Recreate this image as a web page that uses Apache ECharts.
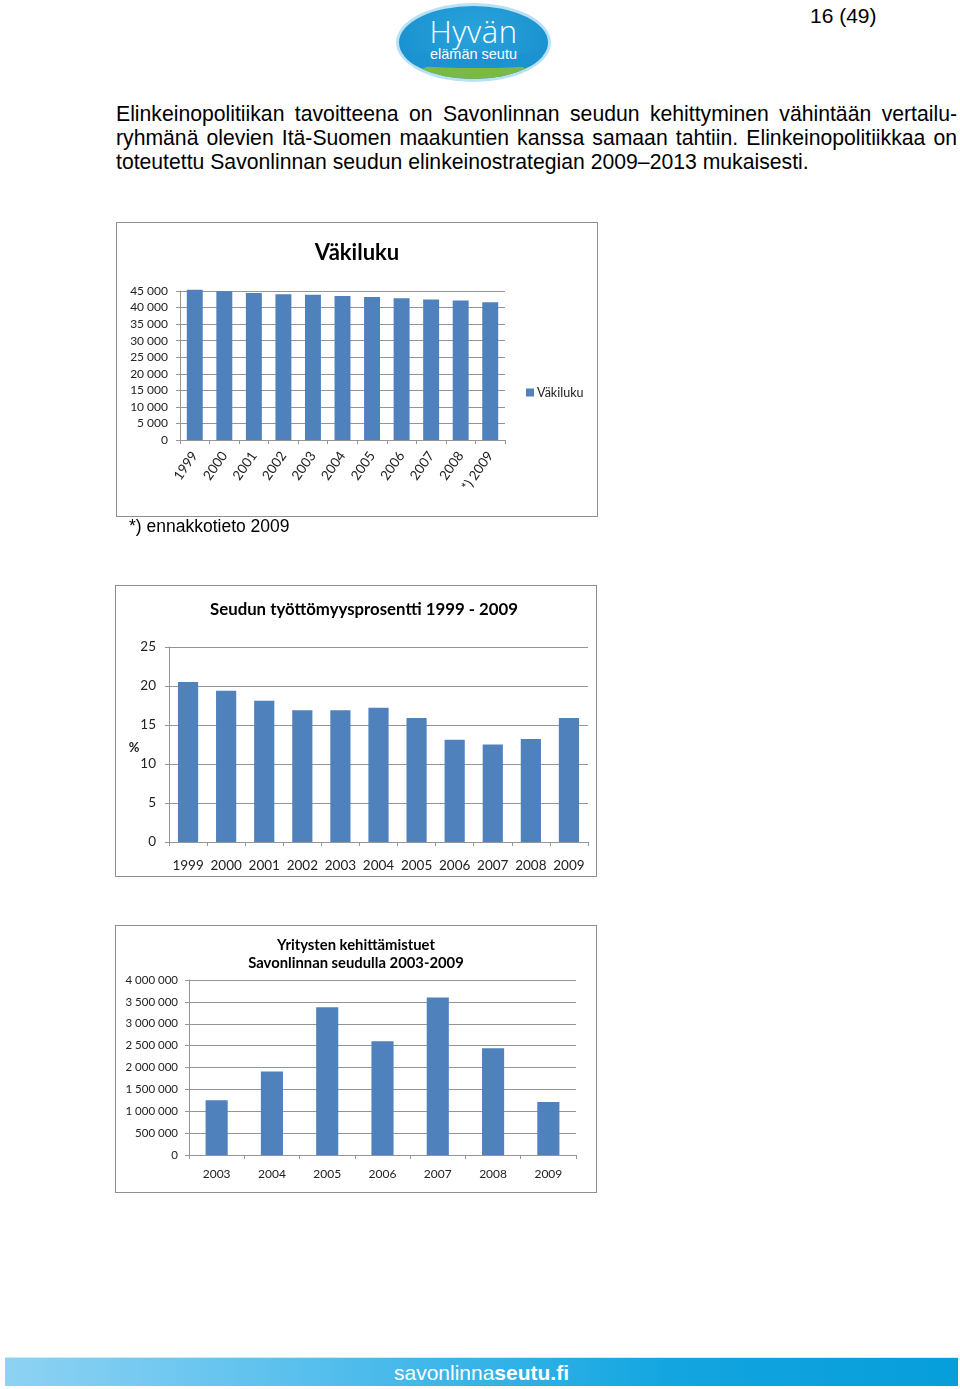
<!DOCTYPE html>
<html>
<head>
<meta charset="utf-8">
<script src="https://cdn.jsdelivr.net/npm/echarts@6/dist/echarts.min.js"></script>
<style>
  html, body { margin: 0; padding: 0; background: #fff; }
  body { width: 960px; height: 1389px; position: relative; overflow: hidden; font-family: "Liberation Sans", Arial, sans-serif; color: #000; }
  .abs { position: absolute; }
  .pline { position: absolute; left: 116px; width: 841px; font-size: 21.2px; line-height: 24px; white-space: nowrap; }
  .just { text-align: justify; text-align-last: justify; white-space: normal; }
  .box { position: absolute; box-sizing: border-box; border: 1px solid #8e8e8e; background: #fff; }
  .chart { position: absolute; left: 0; top: 0; }
  #logo { position: absolute; left: 396px; top: 3px; width: 155px; height: 79px; border-radius: 50%; box-sizing: border-box; border: 3px solid #b9e1f4; background: radial-gradient(ellipse at 50% 35%, #2aa3dc 0%, #1b93d0 70%, #1a8ccb 100%); overflow: hidden; }
  #hill { position: absolute; left: 8px; top: 52px; width: 135px; height: 60px; border-radius: 50%; background: #7cb944; }
  #hill2 { position: absolute; left: -10px; top: 47px; width: 175px; height: 15px; border-radius: 50%; background: #1b93d0; }
  #logo .t1 { position: absolute; left: 0; width: 100%; top: 8px; text-align: center; color: #fff; font-family: "Open Sans", "Liberation Sans", sans-serif; font-weight: 300; font-size: 31px; line-height: 34px; letter-spacing: 0.5px; }
  #logo .t2 { position: absolute; left: 0; width: 100%; top: 40px; text-align: center; color: #fff; font-family: "Liberation Sans", sans-serif; font-size: 14.5px; line-height: 16px; }
  #footer { position: absolute; left: 5px; top: 1357px; width: 953px; height: 29px; background: linear-gradient(to right, #8fd2f3 0%, #52bdec 35%, #13a5e0 70%, #069edb 100%); border-top: 1px solid #c9ecfa; box-sizing: border-box; }
  #footer span { position: absolute; left: 0; width: 100%; top: 2px; text-align: center; color: #fff; font-size: 21px; line-height: 26px; font-family: "Liberation Sans", Arial, sans-serif; }
</style>
</head>
<body>
<div class="abs" style="left:810px;top:5px;font-size:21px;line-height:21px;">16 (49)</div>
<div id="logo"><div id="hill"></div><div id="hill2"></div><div class="t1">Hyvän</div><div class="t2">elämän seutu</div></div>

<div class="pline just" style="top:102px;">Elinkeinopolitiikan tavoitteena on Savonlinnan seudun kehittyminen vähintään vertailu-</div>
<div class="pline just" style="top:126px;">ryhmänä olevien Itä-Suomen maakuntien kanssa samaan tahtiin. Elinkeinopolitiikkaa on</div>
<div class="pline" style="top:150px;">toteutettu Savonlinnan seudun elinkeinostrategian 2009–2013 mukaisesti.</div>

<div class="box" style="left:116px;top:222px;width:482px;height:295px;"><div id="c1" class="chart" style="width:480px;height:293px;"></div></div>
<div class="abs" style="left:129px;top:514px;font-size:17.5px;line-height:24px;">*) ennakkotieto 2009</div>

<div class="box" style="left:115px;top:585px;width:482px;height:292px;"><div id="c2" class="chart" style="width:480px;height:290px;"></div></div>

<div class="box" style="left:115px;top:925px;width:482px;height:268px;"><div id="c3" class="chart" style="width:480px;height:266px;"></div></div>

<div id="footer"><span>savonlinna<b>seutu.fi</b></span></div>

<script>
// ---- Data ----
const popYears = ['1999', '2000', '2001', '2002', '2003', '2004', '2005', '2006', '2007', '2008', '*) 2009'];
const population = [45400, 44900, 44400, 44000, 43900, 43500, 43200, 42800, 42400, 42100, 41600];
const popSeriesName = 'Väkiluku';
const popTitle = 'Väkiluku';

const unempYears = ['1999', '2000', '2001', '2002', '2003', '2004', '2005', '2006', '2007', '2008', '2009'];
const unemployment = [20.5, 19.4, 18.1, 16.9, 16.9, 17.2, 15.9, 13.1, 12.5, 13.2, 15.9];
const unempTitle = 'Seudun työttömyysprosentti 1999 - 2009';
const unempAxisName = '%';

const grantYears = ['2003', '2004', '2005', '2006', '2007', '2008', '2009'];
const grants = [1250000, 1910000, 3380000, 2600000, 3600000, 2440000, 1210000];
const grantTitle = 'Yritysten kehittämistuet\nSavonlinnan seudulla 2003-2009';

// ---- Styling ----
const FONT = 'Lato, "Open Sans", sans-serif';
const BAR = '#4F81BD';
const GRID = '#959595';
const LABEL = '#222';
const fmt = v => String(v).replace(/\B(?=(\d{3})+(?!\d))/g, ' ');

function baseAxes(o) {
  return {
    xAxis: {
      type: 'category', data: o.cats,
      axisLine: { lineStyle: { color: GRID, width: 1 } },
      axisTick: { show: true, alignWithLabel: false, length: 4, lineStyle: { color: GRID } },
      axisLabel: Object.assign({ color: LABEL, fontFamily: FONT, fontSize: o.xFont, margin: o.xMargin, interval: 0 }, o.xLabelExtra || {})
    },
    yAxis: {
      type: 'value', min: 0, max: o.max, interval: o.interval,
      axisLine: { show: true, lineStyle: { color: GRID, width: 1 } },
      axisTick: { show: true, length: 4, lineStyle: { color: GRID } },
      splitLine: { show: true, lineStyle: { color: GRID, width: 1 } },
      axisLabel: { color: LABEL, fontFamily: FONT, fontSize: o.yFont, margin: o.yMargin, formatter: fmt }
    }
  };
}

// Chart 1: Väkiluku
const c1 = echarts.init(document.getElementById('c1'), null, { renderer: 'canvas' });
c1.setOption(Object.assign({
  animation: false,
  title: { text: popTitle, left: 'center', top: 14, textStyle: { fontFamily: FONT, fontWeight: 'bold', fontSize: 22, color: '#000' } },
  legend: { left: 404, top: 158, itemWidth: 8, itemHeight: 8, itemGap: 4, icon: 'rect', data: [popSeriesName], textStyle: { fontFamily: FONT, fontSize: 12.5, color: '#222', padding: [0, 0, 0, -2] } },
  grid: { left: 63, right: 92, top: 68, bottom: 76 },
  series: [{ name: popSeriesName, type: 'bar', data: population, barCategoryGap: '46%', clip: false, itemStyle: { color: BAR } }]
}, baseAxes({ cats: popYears, max: 45000, interval: 5000, xFont: 13.5, xMargin: 13, yFont: 12, yMargin: 12, xLabelExtra: { rotate: 55 } })));

// Chart 2: työttömyysprosentti
const c2 = echarts.init(document.getElementById('c2'), null, { renderer: 'canvas' });
c2.setOption(Object.assign({
  animation: false,
  title: { text: unempTitle, left: 243, textAlign: 'center', top: 10, textStyle: { fontFamily: FONT, fontWeight: 'bold', fontSize: 16.8, color: '#000' } },
  graphic: [{ type: 'text', x: 18, y: 162, style: { text: unempAxisName, fontFamily: FONT, fontSize: 13, fontWeight: 'bold', fill: '#222', align: 'center', verticalAlign: 'middle' } }],
  grid: { left: 53, right: 8, top: 61, bottom: 34 },
  series: [{ type: 'bar', data: unemployment, barCategoryGap: '47%', itemStyle: { color: BAR } }]
}, baseAxes({ cats: unempYears, max: 25, interval: 5, xFont: 13.5, xMargin: 17, yFont: 13.5, yMargin: 13 })));

// Chart 3: Yritysten kehittämistuet
const c3 = echarts.init(document.getElementById('c3'), null, { renderer: 'canvas' });
c3.setOption(Object.assign({
  animation: false,
  title: { text: grantTitle, left: 'center', top: 5, textStyle: { fontFamily: FONT, fontWeight: 'bold', fontSize: 14.8, lineHeight: 18, color: '#000' } },
  grid: { left: 73, right: 20, top: 54, bottom: 37 },
  series: [{ type: 'bar', data: grants, barCategoryGap: '60%', itemStyle: { color: BAR } }]
}, baseAxes({ cats: grantYears, max: 4000000, interval: 500000, xFont: 12, xMargin: 13, yFont: 11.5, yMargin: 11 })));
</script>
</body>
</html>
